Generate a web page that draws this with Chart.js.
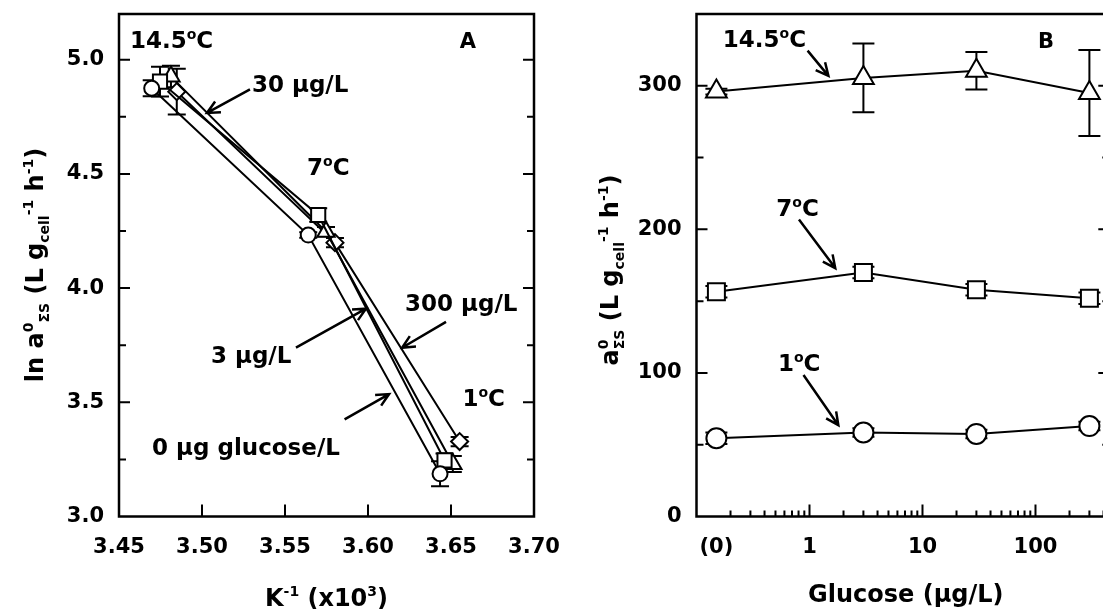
<!DOCTYPE html>
<html>
<head>
<meta charset="utf-8">
<script src="https://cdn.jsdelivr.net/npm/chart.js@4.4.1/dist/chart.umd.min.js"></script>
<style>
  html, body { margin: 0; padding: 0; background: #fff; overflow: hidden; width: 1103px; height: 609px; }
  #panelA { position: absolute; left: 0; top: 0; }
  #panelB { position: absolute; left: 560px; top: 0; }
</style>
</head>
<body>
<canvas id="panelA" width="560" height="609"></canvas>
<canvas id="panelB" width="600" height="609"></canvas>
<script>
const FONT = '"DejaVu Sans"';

// Panel A: ln a0 against 1/T (K^-1 x10^3), one line per glucose level
const xCircA = [3.4697, 3.5640, 3.6434];
const yCircA = [4.875, 4.232, 3.187];
const eCircA = [0.035, 0.012, 0.055];
const xSqA = [3.4747, 3.5700, 3.6461];
const ySqA = [4.904, 4.320, 3.246];
const eSqA = [0.065, 0.03, 0.03];
const xTriA = [3.4813, 3.5747, 3.6511];
const yTriA = [4.926, 4.247, 3.230];
const eTriA = [0.047, 0.02, 0.035];
const xDiaA = [3.4848, 3.5801, 3.6552];
const yDiaA = [4.860, 4.199, 3.328];
const eDiaA = [0.1, 0.02, 0.02];
const xTicksA = [3.45, 3.50, 3.55, 3.60, 3.65, 3.70];
const yTicksA = [3.0, 3.5, 4.0, 4.5, 5.0];
const yMinorA = [3.25, 3.75, 4.25, 4.75];

// Panel B: a0 against glucose, one line per temperature ("(0)" sits at 0.15)
const glucoseB = [0.15, 3, 30, 300];
const a145 = [296, 305.5, 310.5, 295];
const e145 = [2, 24, 13, 30];
const a7 = [156.5, 170, 158, 152];
const e7 = [4, 4, 4, 4];
const a1 = [54.5, 58.5, 57.5, 63];
const e1 = [4, 3, 3, 3];
const xTicksB = [0.15, 1, 10, 100];
const xTickLabelsB = ['(0)', '1', '10', '100'];
const yTicksB = [0, 100, 200, 300];
const yMinorB = [50, 150, 250];
const xMinorB = [];
[0.1, 1, 10, 100].forEach(d => {
    for (let k = 2; k <= 9; k++) if (d * k < 450) xMinorB.push(d * k);
});

// text labels and arrows, in data units
const notesA = [
    { parts: [['14.5', 0], ['o', 1], ['C', 0]], x: 3.4566, y: 5.086, size: 23 },
    { parts: [['A', 0]], x: 3.6602, y: 5.086, size: 21, center: true },
    { parts: [['30 μg/L', 0]], x: 3.5301, y: 4.896, size: 23 },
    { parts: [['7', 0], ['o', 1], ['C', 0]], x: 3.5633, y: 4.530, size: 23 },
    { parts: [['300 μg/L', 0]], x: 3.6223, y: 3.935, size: 23 },
    { parts: [['3 μg/L', 0]], x: 3.5054, y: 3.707, size: 23 },
    { parts: [['1', 0], ['o', 1], ['C', 0]], x: 3.6569, y: 3.519, size: 23 },
    { parts: [['0 μg glucose/L', 0]], x: 3.4699, y: 3.306, size: 23 }
];
const arrowsA = [
    [3.5289, 4.870, 3.5030, 4.767],
    [3.6470, 3.852, 3.6205, 3.739],
    [3.5566, 3.739, 3.5988, 3.910],
    [3.5859, 3.425, 3.6127, 3.536]
];
const notesB = [
    { parts: [['14.5', 0], ['o', 1], ['C', 0]], x: 0.171, y: 332.7, size: 23 },
    { parts: [['B', 0]], x: 124, y: 331.5, size: 21, center: true },
    { parts: [['7', 0], ['o', 1], ['C', 0]], x: 0.509, y: 215, size: 23 },
    { parts: [['1', 0], ['o', 1], ['C', 0]], x: 0.526, y: 106.9, size: 23 }
];
const arrowsB = [
    [0.962, 324.5, 1.47, 306.9],
    [0.807, 206.9, 1.69, 173],
    [0.885, 98.5, 1.80, 63.6]
];

// axis titles with sub/superscripts: [text, 0 normal | 1 sup | -1 sub, stacked sup]
const titleXA = [['K', 0], ['-1', 1], [' (x10', 0], ['3', 1], [')', 0]];
const titleYA = [['ln a', 0], ['0', 1], ['ΣS', -1], [' (L g', 0], ['cell', -1], ['-1', 1], [' h', 0], ['-1', 1], [')', 0]];
const titleXB = [['Glucose (μg/L)', 0]];
const titleYB = [['a', 0], ['ΣS', -1, '0'], [' (L g', 0], ['cell', -1], ['-1', 1], [' h', 0], ['-1', 1], [')', 0]];

function pts(xs, ys) {
    return xs.map((x, i) => ({ x: x, y: ys[i] }));
}

function drawRich(ctx, parts, x, y, size, center) {
    const small = Math.round(size * 0.6);
    const fMain = 'bold ' + size + 'px ' + FONT;
    const fSmall = 'bold ' + small + 'px ' + FONT;
    let total = 0;
    const widths = parts.map(p => {
        ctx.font = p[1] ? fSmall : fMain;
        let w = ctx.measureText(p[0]).width;
        if (p[2]) w = Math.max(w, ctx.measureText(p[2]).width);
        total += w;
        return w;
    });
    let cx = center ? x - total / 2 : x;
    const base = y + size * 0.729 / 2;
    ctx.textAlign = 'left';
    ctx.textBaseline = 'alphabetic';
    ctx.fillStyle = '#000';
    parts.forEach((p, i) => {
        ctx.font = p[1] ? fSmall : fMain;
        const dy = p[1] > 0 ? -size * 0.42 : (p[1] < 0 ? size * 0.25 : 0);
        ctx.fillText(p[0], cx, base + dy);
        if (p[2]) ctx.fillText(p[2], cx, base - size * 0.42);
        cx += widths[i];
    });
}

function drawArrow(ctx, x1, y1, x2, y2) {
    const ang = Math.atan2(y2 - y1, x2 - x1);
    const len = 14, spread = 0.45;
    ctx.beginPath();
    ctx.moveTo(x1, y1);
    ctx.lineTo(x2, y2);
    ctx.moveTo(x2 - len * Math.cos(ang - spread), y2 - len * Math.sin(ang - spread));
    ctx.lineTo(x2, y2);
    ctx.lineTo(x2 - len * Math.cos(ang + spread), y2 - len * Math.sin(ang + spread));
    ctx.stroke();
}

function errorBars(errs, capHalf) {
    return {
        id: 'errorBars',
        beforeDatasetsDraw(chart) {
            const ctx = chart.ctx, xs = chart.scales.x, ys = chart.scales.y;
            ctx.save();
            ctx.strokeStyle = '#000';
            ctx.lineWidth = 2;
            chart.data.datasets.forEach((ds, i) => {
                ds.data.forEach((p, j) => {
                    const e = errs[i][j];
                    const px = xs.getPixelForValue(p.x);
                    const top = ys.getPixelForValue(p.y + e);
                    const bot = ys.getPixelForValue(p.y - e);
                    ctx.beginPath();
                    ctx.moveTo(px, top); ctx.lineTo(px, bot);
                    ctx.moveTo(px - capHalf, top); ctx.lineTo(px + capHalf, top);
                    ctx.moveTo(px - capHalf, bot); ctx.lineTo(px + capHalf, bot);
                    ctx.stroke();
                });
            });
            ctx.restore();
        }
    };
}

// box, inward ticks, notes, arrows and axis titles
function decorations(cfg) {
    return {
        id: 'decorations',
        afterDraw(chart) {
            const ctx = chart.ctx, a = chart.chartArea;
            const xs = chart.scales.x, ys = chart.scales.y;
            ctx.save();
            ctx.strokeStyle = '#000';
            ctx.lineWidth = 2.5;
            ctx.strokeRect(a.left, a.top, a.right - a.left, a.bottom - a.top);

            ctx.lineWidth = 2;
            ctx.beginPath();
            cfg.yMajor.concat(cfg.yMinor).forEach(v => {
                const py = ys.getPixelForValue(v);
                if (py >= a.bottom - 1 || py <= a.top + 1) return;
                const L = cfg.yMajor.includes(v) ? 11 : 7;
                ctx.moveTo(a.left, py); ctx.lineTo(a.left + L, py);
                ctx.moveTo(a.right, py); ctx.lineTo(a.right - L, py);
            });
            cfg.xMajor.concat(cfg.xMinor).forEach(v => {
                const px = xs.getPixelForValue(v);
                if (px <= a.left + 1 || px >= a.right - 1) return;
                const L = cfg.xMajor.includes(v) ? 12 : 6;
                ctx.moveTo(px, a.bottom); ctx.lineTo(px, a.bottom - L);
            });
            ctx.stroke();

            ctx.lineWidth = 2.5;
            cfg.arrows.forEach(r => {
                drawArrow(ctx, xs.getPixelForValue(r[0]), ys.getPixelForValue(r[1]),
                    xs.getPixelForValue(r[2]), ys.getPixelForValue(r[3]));
            });
            cfg.notes.forEach(n => {
                drawRich(ctx, n.parts, xs.getPixelForValue(n.x), ys.getPixelForValue(n.y), n.size, n.center);
            });

            drawRich(ctx, cfg.titleX, cfg.titleXPos[0], cfg.titleXPos[1], 24, true);
            ctx.translate(cfg.titleYPos[0], cfg.titleYPos[1]);
            ctx.rotate(-Math.PI / 2);
            drawRich(ctx, cfg.titleY, 0, 0, 24, true);
            ctx.restore();
        }
    };
}

function baseDataset(data, style, radius) {
    return {
        data: data,
        showLine: true,
        borderColor: '#000',
        borderWidth: 2,
        pointStyle: style,
        pointRadius: radius,
        pointBackgroundColor: '#fff',
        pointBorderColor: '#000',
        pointBorderWidth: 2,
        clip: false
    };
}

const tickFont = { family: FONT, size: 21, weight: 'bold' };

// fixed axis sizes so the plot box lands where it should
function fitX(s) {
    s.height = 92.5;
    s.paddingLeft = 0; s.paddingRight = 0;
}
function fitY(w) {
    return s => {
        s.width = w;
        s.paddingTop = 0; s.paddingBottom = 0;
    };
}

new Chart(document.getElementById('panelA'), {
    type: 'scatter',
    data: {
        datasets: [
            baseDataset(pts(xCircA, yCircA), 'circle', 7.5),
            baseDataset(pts(xSqA, ySqA), 'rect', 10),
            baseDataset(pts(xTriA, yTriA), 'triangle', 10),
            baseDataset(pts(xDiaA, yDiaA), 'rectRot', 8.5)
        ]
    },
    options: {
        responsive: false,
        animation: false,
        events: [],
        layout: { padding: { top: 14, right: 26, left: 0, bottom: 0 } },
        plugins: { legend: { display: false }, tooltip: { enabled: false } },
        scales: {
            x: {
                type: 'linear', min: 3.45, max: 3.70,
                grid: { display: false, drawTicks: false },
                border: { display: false },
                ticks: { font: tickFont, color: '#000', padding: 18, maxRotation: 0, autoSkip: false,
                    callback: v => v.toFixed(2) },
                afterBuildTicks: s => { s.ticks = xTicksA.map(v => ({ value: v })); },
                afterFit: fitX
            },
            y: {
                type: 'linear', min: 3.0, max: 5.2,
                grid: { display: false, drawTicks: false },
                border: { display: false },
                ticks: { font: tickFont, color: '#000', padding: 15, autoSkip: false,
                    callback: v => v.toFixed(1) },
                afterBuildTicks: s => { s.ticks = yTicksA.map(v => ({ value: v })); },
                afterFit: fitY(119)
            }
        }
    },
    plugins: [
        errorBars([eCircA, eSqA, eTriA, eDiaA], 9),
        decorations({
            yMajor: yTicksA, yMinor: yMinorA,
            xMajor: xTicksA, xMinor: [],
            notes: notesA, arrows: arrowsA,
            titleX: titleXA, titleXPos: [326.5, 597],
            titleY: titleYA, titleYPos: [34, 265]
        })
    ]
});

new Chart(document.getElementById('panelB'), {
    type: 'scatter',
    data: {
        datasets: [
            baseDataset(pts(glucoseB, a145), 'triangle', 12),
            baseDataset(pts(glucoseB, a7), 'rect', 12),
            baseDataset(pts(glucoseB, a1), 'circle', 10)
        ]
    },
    options: {
        responsive: false,
        animation: false,
        events: [],
        layout: { padding: { top: 14, right: 50.7, left: 0, bottom: 0 } },
        plugins: { legend: { display: false }, tooltip: { enabled: false } },
        scales: {
            x: {
                type: 'logarithmic', min: 0.1, max: 450,
                grid: { display: false, drawTicks: false },
                border: { display: false },
                ticks: { font: tickFont, color: '#000', padding: 18, maxRotation: 0, autoSkip: false,
                    callback: (v, i) => xTickLabelsB[i] },
                afterBuildTicks: s => { s.ticks = xTicksB.map(v => ({ value: v })); },
                afterFit: fitX
            },
            y: {
                type: 'linear', min: 0, max: 350,
                grid: { display: false, drawTicks: false },
                border: { display: false },
                ticks: { font: tickFont, color: '#000', padding: 15, autoSkip: false },
                afterBuildTicks: s => { s.ticks = yTicksB.map(v => ({ value: v })); },
                afterFit: fitY(136.5)
            }
        }
    },
    plugins: [
        errorBars([e145, e7, e1], 11),
        decorations({
            yMajor: yTicksB, yMinor: yMinorB,
            xMajor: [1, 10, 100], xMinor: xMinorB,
            notes: notesB, arrows: arrowsB,
            titleX: titleXB, titleXPos: [345.8, 593.5],
            titleY: titleYB, titleYPos: [49, 270]
        })
    ]
});
</script>
</body>
</html>
